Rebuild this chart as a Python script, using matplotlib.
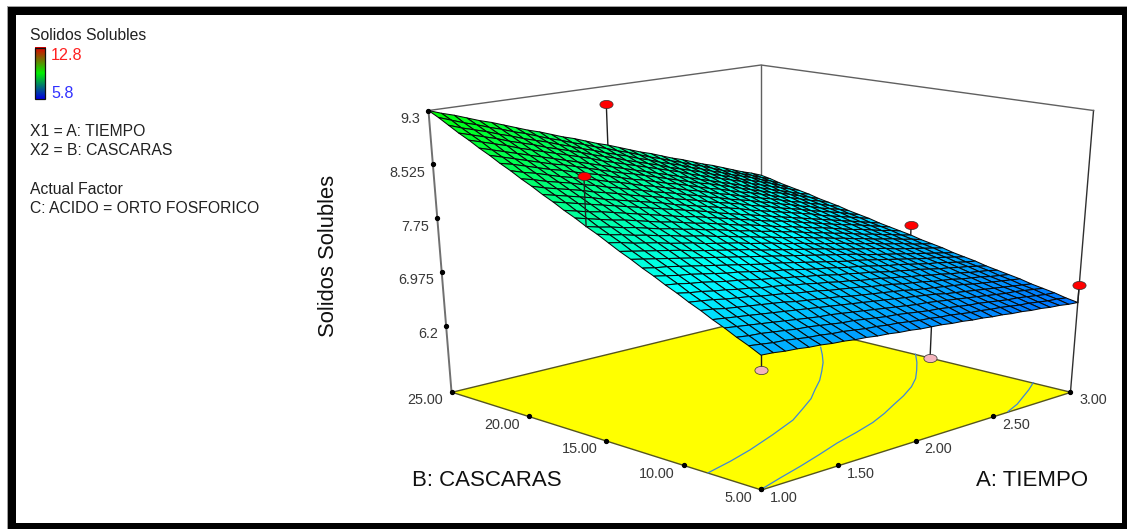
import numpy as np
import matplotlib
matplotlib.use('Agg')
import matplotlib.pyplot as plt
from matplotlib.colors import LinearSegmentedColormap, Normalize
from matplotlib.markers import MarkerStyle
from matplotlib.patches import Rectangle
from matplotlib.transforms import Affine2D
from mpl_toolkits.mplot3d import proj3d

plt.rcParams['font.family'] = ['Liberation Sans', 'DejaVu Sans']

# Superficie estimada de la imagen (filas: CASCARAS 5 a 25, columnas: TIEMPO 1 a 3)
tiempo = np.linspace(1, 3, 31)
cascaras = np.linspace(5, 25, 31)
solidos = [
    [7.04,7.03,7.01,7.00,6.98,6.97,6.95,6.94,6.92,6.91,6.89,6.88,6.86,6.85,6.83,6.82,6.81,6.79,6.78,6.76,6.75,6.73,6.72,6.70,6.69,6.67,6.66,6.64,6.63,6.61,6.60],
    [7.12,7.10,7.08,7.07,7.05,7.03,7.02,7.00,6.99,6.97,6.95,6.94,6.92,6.91,6.89,6.87,6.86,6.84,6.83,6.81,6.79,6.78,6.76,6.75,6.73,6.71,6.70,6.68,6.66,6.65,6.63],
    [7.19,7.17,7.16,7.14,7.12,7.10,7.09,7.07,7.05,7.03,7.02,7.00,6.98,6.96,6.95,6.93,6.91,6.89,6.88,6.86,6.84,6.82,6.81,6.79,6.77,6.75,6.74,6.72,6.70,6.68,6.67],
    [7.27,7.25,7.23,7.21,7.19,7.17,7.15,7.13,7.11,7.10,7.08,7.06,7.04,7.02,7.00,6.98,6.96,6.94,6.93,6.91,6.89,6.87,6.85,6.83,6.81,6.79,6.77,6.76,6.74,6.72,6.70],
    [7.34,7.32,7.30,7.28,7.26,7.24,7.22,7.20,7.18,7.16,7.14,7.12,7.10,7.08,7.06,7.04,7.02,7.00,6.98,6.96,6.94,6.91,6.89,6.87,6.85,6.83,6.81,6.79,6.77,6.75,6.73],
    [7.42,7.40,7.37,7.35,7.33,7.31,7.29,7.27,7.24,7.22,7.20,7.18,7.16,7.13,7.11,7.09,7.07,7.05,7.03,7.00,6.98,6.96,6.94,6.92,6.90,6.87,6.85,6.83,6.81,6.79,6.77],
    [7.49,7.47,7.45,7.42,7.40,7.38,7.35,7.33,7.31,7.28,7.26,7.24,7.21,7.19,7.17,7.15,7.12,7.10,7.08,7.05,7.03,7.01,6.98,6.96,6.94,6.91,6.89,6.87,6.84,6.82,6.80],
    [7.57,7.54,7.52,7.49,7.47,7.44,7.42,7.39,7.37,7.35,7.32,7.30,7.27,7.25,7.22,7.20,7.17,7.15,7.13,7.10,7.08,7.05,7.03,7.00,6.98,6.95,6.93,6.90,6.88,6.86,6.83],
    [7.64,7.62,7.59,7.57,7.54,7.51,7.49,7.46,7.43,7.41,7.38,7.36,7.33,7.31,7.28,7.25,7.23,7.20,7.18,7.15,7.12,7.10,7.07,7.05,7.02,6.99,6.97,6.94,6.92,6.89,6.86],
    [7.72,7.69,7.66,7.64,7.61,7.58,7.55,7.53,7.50,7.47,7.44,7.42,7.39,7.36,7.33,7.31,7.28,7.25,7.23,7.20,7.17,7.14,7.12,7.09,7.06,7.03,7.01,6.98,6.95,6.92,6.90],
    [7.79,7.76,7.74,7.71,7.68,7.65,7.62,7.59,7.56,7.53,7.50,7.48,7.45,7.42,7.39,7.36,7.33,7.30,7.27,7.25,7.22,7.19,7.16,7.13,7.10,7.07,7.04,7.02,6.99,6.96,6.93],
    [7.87,7.84,7.81,7.78,7.75,7.72,7.69,7.66,7.63,7.60,7.57,7.54,7.51,7.48,7.45,7.42,7.39,7.36,7.33,7.30,7.27,7.23,7.20,7.17,7.14,7.11,7.08,7.05,7.02,6.99,6.96],
    [7.94,7.91,7.88,7.85,7.82,7.79,7.75,7.72,7.69,7.66,7.63,7.60,7.56,7.53,7.50,7.47,7.44,7.41,7.38,7.34,7.31,7.28,7.25,7.22,7.19,7.15,7.12,7.09,7.06,7.03,7.00],
    [8.02,7.99,7.95,7.92,7.89,7.85,7.82,7.79,7.75,7.72,7.69,7.66,7.62,7.59,7.56,7.52,7.49,7.46,7.42,7.39,7.36,7.33,7.29,7.26,7.23,7.19,7.16,7.13,7.09,7.06,7.03],
    [8.10,8.06,8.03,7.99,7.96,7.92,7.89,7.85,7.82,7.79,7.75,7.72,7.68,7.65,7.61,7.58,7.54,7.51,7.48,7.44,7.41,7.37,7.34,7.30,7.27,7.23,7.20,7.17,7.13,7.10,7.06],
    [8.17,8.13,8.10,8.06,8.03,7.99,7.95,7.92,7.88,7.85,7.81,7.78,7.74,7.70,7.67,7.63,7.60,7.56,7.53,7.49,7.45,7.42,7.38,7.35,7.31,7.27,7.24,7.20,7.17,7.13,7.10],
    [8.25,8.21,8.17,8.13,8.10,8.06,8.02,7.98,7.95,7.91,7.87,7.84,7.80,7.76,7.72,7.69,7.65,7.61,7.57,7.54,7.50,7.46,7.43,7.39,7.35,7.31,7.28,7.24,7.20,7.17,7.13],
    [8.32,8.28,8.24,8.21,8.17,8.13,8.09,8.05,8.01,7.97,7.93,7.90,7.86,7.82,7.78,7.74,7.70,7.66,7.62,7.59,7.55,7.51,7.47,7.43,7.39,7.35,7.32,7.28,7.24,7.20,7.16],
    [8.40,8.36,8.32,8.28,8.24,8.20,8.16,8.12,8.08,8.04,8.00,7.96,7.92,7.88,7.83,7.79,7.75,7.71,7.67,7.63,7.59,7.55,7.51,7.47,7.43,7.39,7.35,7.31,7.27,7.23,7.19],
    [8.47,8.43,8.39,8.35,8.31,8.26,8.22,8.18,8.14,8.10,8.06,8.01,7.97,7.93,7.89,7.85,7.81,7.77,7.72,7.68,7.64,7.60,7.56,7.52,7.48,7.43,7.39,7.35,7.31,7.27,7.23],
    [8.55,8.50,8.46,8.42,8.38,8.33,8.29,8.25,8.20,8.16,8.12,8.08,8.03,7.99,7.95,7.90,7.86,7.82,7.78,7.73,7.69,7.65,7.60,7.56,7.52,7.47,7.43,7.39,7.35,7.30,7.26],
    [8.62,8.58,8.53,8.49,8.45,8.40,8.36,8.31,8.27,8.22,8.18,8.13,8.09,8.05,8.00,7.96,7.91,7.87,7.82,7.78,7.74,7.69,7.65,7.60,7.56,7.51,7.47,7.42,7.38,7.34,7.29],
    [8.70,8.65,8.61,8.56,8.51,8.47,8.42,8.38,8.33,8.29,8.24,8.19,8.15,8.10,8.06,8.01,7.97,7.92,7.87,7.83,7.78,7.74,7.69,7.65,7.60,7.55,7.51,7.46,7.42,7.37,7.33],
    [8.77,8.73,8.68,8.63,8.58,8.54,8.49,8.44,8.40,8.35,8.30,8.25,8.21,8.16,8.11,8.07,8.02,7.97,7.92,7.88,7.83,7.78,7.74,7.69,7.64,7.59,7.55,7.50,7.45,7.41,7.36],
    [8.85,8.80,8.75,8.70,8.65,8.60,8.56,8.51,8.46,8.41,8.36,8.31,8.27,8.22,8.17,8.12,8.07,8.02,7.97,7.93,7.88,7.83,7.78,7.73,7.68,7.63,7.59,7.54,7.49,7.44,7.39],
    [8.92,8.87,8.82,8.77,8.72,8.67,8.62,8.57,8.52,8.47,8.42,8.37,8.32,8.27,8.22,8.17,8.12,8.07,8.02,7.97,7.92,7.87,7.82,7.77,7.72,7.67,7.62,7.57,7.52,7.47,7.43],
    [9.00,8.95,8.90,8.85,8.79,8.74,8.69,8.64,8.59,8.54,8.49,8.43,8.38,8.33,8.28,8.23,8.18,8.13,8.08,8.02,7.97,7.92,7.87,7.82,7.77,7.71,7.66,7.61,7.56,7.51,7.46],
    [9.07,9.02,8.97,8.92,8.86,8.81,8.76,8.70,8.65,8.60,8.55,8.49,8.44,8.39,8.33,8.28,8.23,8.18,8.12,8.07,8.02,7.97,7.91,7.86,7.81,7.75,7.70,7.65,7.60,7.54,7.49],
    [9.15,9.09,9.04,8.99,8.93,8.88,8.82,8.77,8.72,8.66,8.61,8.55,8.50,8.44,8.39,8.34,8.28,8.23,8.17,8.12,8.07,8.01,7.96,7.90,7.85,7.79,7.74,7.69,7.63,7.58,7.52],
    [9.23,9.17,9.11,9.06,9.00,8.95,8.89,8.84,8.78,8.72,8.67,8.61,8.56,8.50,8.45,8.39,8.34,8.28,8.22,8.17,8.11,8.06,8.00,7.95,7.89,7.83,7.78,7.72,7.67,7.61,7.56],
    [9.30,9.24,9.19,9.13,9.07,9.02,8.96,8.90,8.84,8.79,8.73,8.67,8.62,8.56,8.50,8.45,8.39,8.33,8.27,8.22,8.16,8.10,8.05,7.99,7.93,7.88,7.82,7.76,7.70,7.65,7.59],
]

# Puntos de diseno
punto_a = [2.0, 1.0, 3.0, 3.0, 1.0, 2.0]
punto_b = [25.0, 15.0, 15.0, 5.0, 5.0, 5.0]
punto_z = [9.05, 8.82, 7.26, 6.85, 6.85, 6.38]

# Curvas de nivel sobre el piso
curva1_a = [1.0, 1.16, 1.33, 1.5, 1.67, 1.84, 2.0, 2.14, 2.27, 2.41, 2.55, 2.67, 2.78, 2.89, 3.0]
curva1_b = [5.0, 5.5, 6.0, 6.55, 7.13, 7.6, 8.1, 8.68, 9.3, 9.95, 10.7, 11.5, 12.4, 13.35, 14.4]
curva2_a = [1.0, 1.17, 1.34, 1.56, 1.78, 1.93, 2.08, 2.2, 2.33, 2.45, 2.57, 2.67, 2.77]
curva2_b = [8.04, 8.5, 9.05, 9.9, 10.82, 11.7, 12.6, 13.5, 14.44, 15.45, 16.5, 17.5, 18.56]
curva3_a = [2.55, 2.67, 2.78, 2.89, 3.0]
curva3_b = [5.0, 5.45, 6.0, 6.55, 7.16]

ticks_a = [1.0, 1.5, 2.0, 2.5, 3.0]
ticks_b = [25.0, 20.0, 15.0, 10.0, 5.0]
ticks_z = [9.3, 8.525, 7.75, 6.975, 6.2]
z_piso = 5.25
z_techo = 9.3

W, H = 1127, 529
fig = plt.figure(figsize=(W / 100, H / 100), dpi=100, facecolor='white')

# marco y textos en coordenadas de pixel
fondo = fig.add_axes([0, 0, 1, 1], zorder=0)
fondo.set_xlim(0, W)
fondo.set_ylim(H, 0)
fondo.axis('off')
fondo.add_patch(Rectangle((6.5, 6), W, H, fc='#a0a0a0', ec='none'))
fondo.add_patch(Rectangle((7.5, 7), W, H, fc='black', ec='none'))
fondo.add_patch(Rectangle((15.5, 15), 1106.5, 507.5, fc='white', ec='none'))

# camara: punto principal (761, 1012)
F = 2004.0
elev = 32.4
cx, cy = 761.0, 1012.0
aspecto = np.array([0.2162, 0.2162, 1.0114])
dist_focal = 0.2136
px_ndc = F / dist_focal
zc, dz = -6.23, 16.0

ax = fig.add_axes([0, 0, 1, 1], projection='3d', computed_zorder=False, zorder=1)
ax.viewLim.intervalx = (-0.2, 0.2)
ax.viewLim.intervaly = (-0.2, 0.2)
lado = 0.4 * px_ndc
ax.set_position([(cx - 0.2 * px_ndc) / W, (H - cy - 0.2 * px_ndc) / H, lado / W, lado / H])
ax.set_axis_off()
ax.patch.set_visible(False)
ax.set_xlim(1, 3)
ax.set_ylim(5, 25)
ax.set_zlim(zc - dz, zc + dz)
ax.set_box_aspect(aspecto)
ax.set_proj_type('persp', focal_length=dist_focal)
ax.view_init(elev=elev, azim=-135)

cmap = LinearSegmentedColormap.from_list(
    'rsm', ['#0000ff', '#00ffff', '#00ff00', '#ffff00', '#ff0000'])
norm = Normalize(5.8, 12.8)

# piso
ax.plot_surface(np.array([[1, 3], [1, 3]]), np.array([[5, 5], [25, 25]]),
                np.full((2, 2), z_piso), color='#ffff00', edgecolor='#55551f',
                linewidth=1.0, shade=False, zorder=1)
for ca, cb in [(curva1_a, curva1_b), (curva2_a, curva2_b), (curva3_a, curva3_b)]:
    ax.plot(ca, cb, z_piso, color='#3f86d8', lw=0.9, zorder=2)

# caja
ax.plot([1, 1], [25, 25], [z_piso, z_techo], color='#707070', lw=1.4, zorder=2)
ax.plot([3, 3], [5, 5], [z_piso, z_techo], color='#303030', lw=1.0, zorder=2)
ax.plot([3, 3], [25, 25], [z_piso, z_techo], color='#606060', lw=1.0, zorder=2)
ax.plot([1, 3, 3], [25, 25, 5], [z_techo] * 3, color='#606060', lw=1.0, zorder=2)

# superficie
A, B = np.meshgrid(tiempo, cascaras)
Z = np.array(solidos)
ax.plot_surface(A, B, Z, facecolors=cmap(norm(Z)), edgecolor='#080808',
                linewidth=0.75, shade=False, rstride=1, cstride=1, zorder=5)

# puntos de diseno y sus tallos
elipse = MarkerStyle('o', transform=Affine2D().scale(1, 0.62))
for a, b, z in zip(punto_a, punto_b, punto_z):
    i = np.argmin(np.abs(tiempo - a))
    j = np.argmin(np.abs(cascaras - b))
    zs = solidos[j][i]
    arriba = z > zs
    orden = 7 if arriba else 3
    ax.plot([a, a], [b, b], [zs, z], color='#202020', lw=1.0, zorder=orden)
    ax.plot([a], [b], [z], ls='none', marker=elipse, ms=9.5,
            mfc='#ff0000' if arriba else '#f4b4bc', mec='#303030', mew=0.5,
            zorder=orden + 1)

encima = fig.add_axes([0, 0, 1, 1], zorder=2)
encima.set_xlim(0, W)
encima.set_ylim(H, 0)
encima.axis('off')


def a_pixel(x, y, z):
    px, py, _ = proj3d.proj_transform(x, y, z, ax.get_proj())
    return cx + px * px_ndc, cy - py * px_ndc


# marcas repartidas por igual sobre cada eje, como en la imagen
def marcas(ini, fin, valores, vmin, vmax, textos, dx, dy, ha):
    p0 = np.array(a_pixel(*ini))
    p1 = np.array(a_pixel(*fin))
    for v, t in zip(valores, textos):
        p = p0 + (p1 - p0) * (v - vmin) / (vmax - vmin)
        encima.plot(p[0], p[1], 'o', color='black', ms=2.8)
        encima.text(p[0] + dx, p[1] + dy, t, ha=ha, va='center', fontsize=10.4,
                    color='#383838')


marcas((1, 25, z_piso), (1, 25, z_techo), ticks_z, z_piso, z_techo,
       ['9.3', '8.525', '7.75', '6.975', '6.2'], -8, 8.5, 'right')
marcas((1, 5, z_piso), (1, 25, z_piso), ticks_b, 5, 25,
       [f'{v:.2f}' for v in ticks_b], -9, 8.5, 'right')
marcas((1, 5, z_piso), (3, 5, z_piso), ticks_a, 1, 3,
       [f'{v:.2f}' for v in ticks_a], 9, 8.5, 'left')

# leyenda
leyenda_cmap = LinearSegmentedColormap.from_list(
    'leyenda', ['#0000e0', '#00f000', '#e00000'])
encima.imshow(np.linspace(0, 1, 52).reshape(-1, 1), cmap=leyenda_cmap, origin='lower',
              extent=(34.5, 45, 99, 47.5), aspect='auto')
encima.add_patch(Rectangle((34.5, 47.5), 10.5, 51.5, fc='none', ec='#101010', lw=0.9))
encima.set_xlim(0, W)
encima.set_ylim(H, 0)

izq_txt = 30
for y, t in [(36, 'Solidos Solubles'), (131.5, 'X1 = A: TIEMPO'), (150.5, 'X2 = B: CASCARAS'),
             (189.5, 'Actual Factor'), (208.5, 'C: ACIDO = ORTO FOSFORICO')]:
    encima.text(izq_txt, y, t, fontsize=11.3, va='center', color='#202020')
encima.text(51, 56, '12.8', fontsize=11.6, va='center', color='#ff2020')
encima.text(51, 93.5, '5.8', fontsize=11.6, va='center', color='#3030ff')

encima.text(328, 256, 'Solidos Solubles', fontsize=15.8, rotation=90, ha='center',
            va='center', color='#101010')
encima.text(487, 481, 'B: CASCARAS', fontsize=16, ha='center', va='center', color='#101010')
encima.text(1032, 481, 'A: TIEMPO', fontsize=16, ha='center', va='center', color='#101010')

fig.savefig('out.png', dpi=100)
